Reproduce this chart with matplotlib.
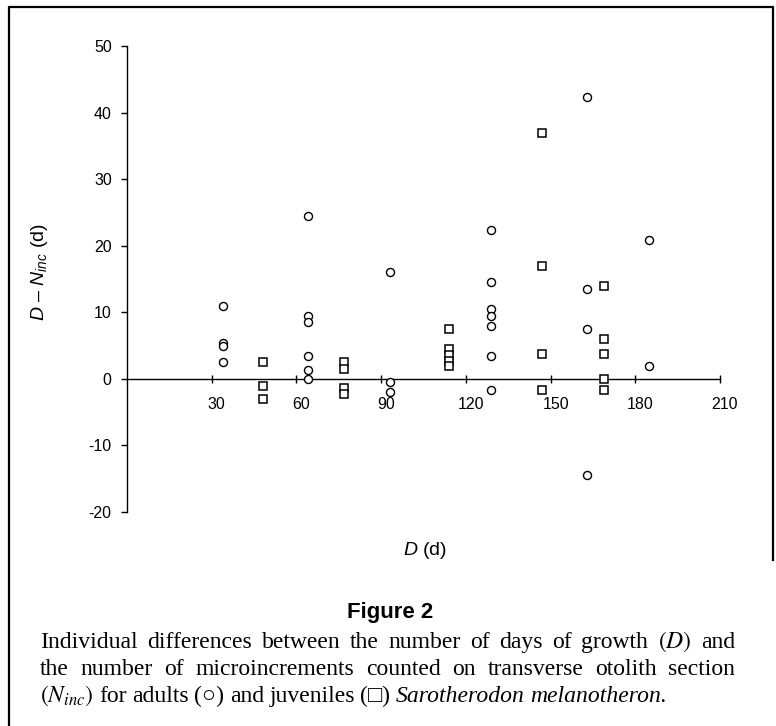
import matplotlib
matplotlib.use('Agg')
import matplotlib.pyplot as plt
from matplotlib.lines import Line2D
import matplotlib.transforms as mtransforms

plt.rcParams['font.family'] = ['Liberation Sans', 'DejaVu Sans']
plt.rcParams['mathtext.fontset'] = 'custom'
plt.rcParams['mathtext.rm'] = 'Liberation Sans'
plt.rcParams['mathtext.it'] = 'Liberation Sans:italic'
plt.rcParams['mathtext.bf'] = 'Liberation Sans:bold'

# ---------------- data ----------------
adult_days = [34, 34, 34, 34,
              64, 64, 64, 64, 64, 64,
              93, 93, 93,
              129, 129, 129, 129, 129, 129, 129,
              163, 163, 163, 163,
              185, 185]
adult_diff = [11.0, 5.4, 5.0, 2.5,
              24.5, 9.5, 8.5, 3.5, 1.3, 0.0,
              16.0, -0.5, -2.0,
              22.4, 14.5, 10.5, 9.5, 7.9, 3.4, -1.6,
              42.3, 13.5, 7.5, -14.4,
              20.9, 1.9]

juv_days = [48, 48, 48,
            77, 77, 77, 77,
            114, 114, 114, 114, 114,
            147, 147, 147, 147,
            169, 169, 169, 169, 169]
juv_diff = [2.5, -1.0, -3.0,
            2.5, 1.5, -1.4, -2.2,
            7.5, 4.5, 3.6, 2.7, 1.9,
            37.0, 17.0, 3.8, -1.6,
            13.9, 6.0, 3.8, 0.0, -1.6]

x_ticks = [30, 60, 90, 120, 150, 180, 210]
y_ticks = [-20, -10, 0, 10, 20, 30, 40, 50]
y_tick_labels = ['-20', '-10', '0', '10', '20', '30', '40', '50']

# ---------------- figure ----------------
W, H = 776, 726
fig = plt.figure(figsize=(W / 100, H / 100), dpi=100)
ax = fig.add_axes([127 / W, 1 - 512 / H, (720 - 127) / W, (512 - 46) / H])
ax.set_xlim(0, 210)
ax.set_ylim(-20, 50)
ax.patch.set_visible(False)
for s in ['top', 'right']:
    ax.spines[s].set_visible(False)
ax.spines['bottom'].set_position(('data', 0))
ax.spines['left'].set_position(('data', 0))
for s in ['bottom', 'left']:
    ax.spines[s].set_linewidth(1.0)

ax.plot(adult_days, adult_diff, linestyle='none', marker='o', mfc='white',
        mec='black', ms=5.8, mew=1.0, clip_on=False, zorder=3)
ax.plot(juv_days, juv_diff, linestyle='none', marker='s', mfc='white',
        mec='black', ms=5.8, mew=1.1, clip_on=False, zorder=3)

ax.set_xticks(x_ticks)
ax.set_xticklabels([str(v) for v in x_ticks])
ax.tick_params(axis='x', direction='inout', length=6, width=1.0, pad=10,
               labelsize=11.5)
ax.set_yticks(y_ticks)
ax.set_yticklabels(y_tick_labels)
ax.tick_params(axis='y', direction='out', length=4, width=1.0, pad=7,
               labelsize=11.5)
off = mtransforms.ScaledTranslation(5 / 100, 0, fig.dpi_scale_trans)
for lbl in ax.get_xticklabels():
    lbl.set_transform(lbl.get_transform() + off)

# axis titles
fig.text(40 / W, 1 - 272 / H, r"$\mathit{D}$ – $\mathit{N}_{\mathit{inc}}$ (d)",
         rotation=90, ha='center', va='center', fontsize=14)
fig.text(403 / W, 1 - 555 / H, r"$\mathit{D}$ (d)", ha='left', va='baseline',
         fontsize=14)

# caption
fig.text(390 / W, 1 - 618 / H, "Figure 2", ha='center', va='baseline',
         fontweight='bold', fontsize=16)

serif = ['Liberation Serif', 'DejaVu Serif', 'DejaVu Sans']
renderer = fig.canvas.get_renderer()


def draw_words(words, y_px, x0, x1, justify, fs=17, space=5.5):
    texts = []
    for w in words:
        if isinstance(w, tuple):
            s, kw = w
        else:
            s, kw = w, {}
        t = fig.text(0, 1 - y_px / H, s, fontsize=fs, va='baseline', ha='left',
                     family=serif, **kw)
        texts.append(t)
    widths = [t.get_window_extent(renderer).width for t in texts]
    if justify and len(texts) > 1:
        gap = (x1 - x0 - sum(widths)) / (len(texts) - 1)
    else:
        gap = space
    x = x0
    for t, wd in zip(texts, widths):
        t.set_x(x / W)
        x += wd + gap


mathD = (r"$(\mathit{D})$", {'math_fontfamily': 'stix'})
mathN = (r"$(\mathit{N}_{\mathit{inc}})$", {'math_fontfamily': 'stix'})
line1 = ["Individual", "differences", "between", "the", "number", "of", "days",
         "of", "growth", mathD, "and"]
line2 = ["the", "number", "of", "microincrements", "counted", "on",
         "transverse", "otolith", "section"]
line3 = [mathN, "for", "adults", "(○)", "and", "juveniles", "(□)",
         ("Sarotherodon", {'style': 'italic'}),
         ("melanotheron.", {'style': 'italic'})]
draw_words(line1, 648, 40, 735, True)
draw_words(line2, 675, 40, 735, True)
draw_words(line3, 702, 40, 735, False)

# frame
fig.add_artist(Line2D([9 / W, 9 / W, 773 / W, 773 / W],
                      [0, 1 - 7 / H, 1 - 7 / H, 1 - 560 / H],
                      transform=fig.transFigure, color='black', lw=1.6))

fig.savefig('out.png', dpi=100)
